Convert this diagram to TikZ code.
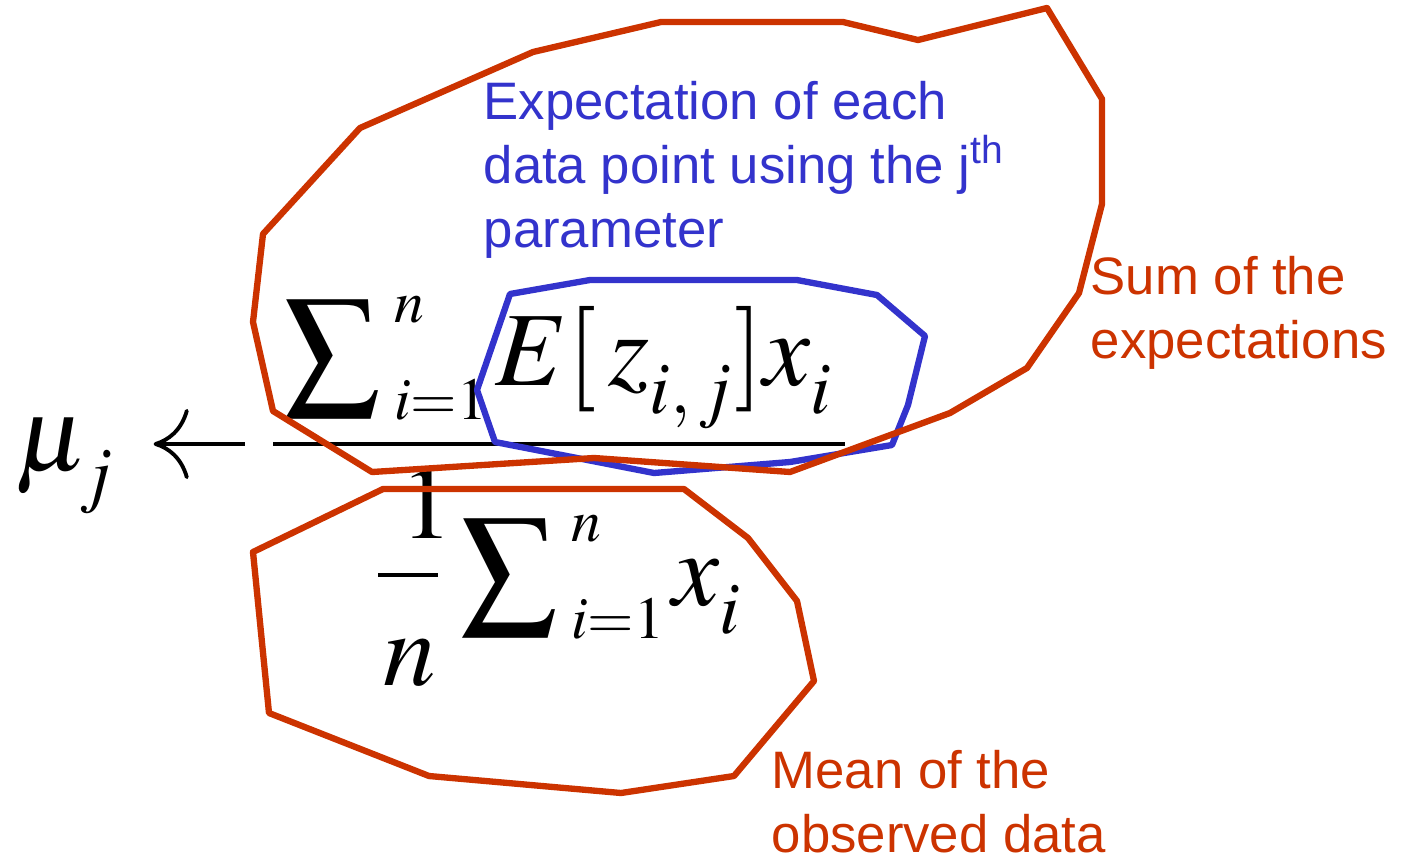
\documentclass[tikz,border=0pt]{standalone}
\usepackage{mathptmx}
\usepackage[no-math]{fontspec}
\setsansfont{Liberation Sans}
\usetikzlibrary{
  arrows.meta,
  positioning
}
\DeclareMathSizes{30}{30}{21}{15}
\DeclareMathSizes{27}{27}{17}{13}
\definecolor{sumred}{RGB}{204,51,0}
\definecolor{expblue}{RGB}{51,51,204}
\newcommand{\dsub}[1]{_{\lower3.5pt\hbox{$\scriptstyle#1$}}}
\tikzset{
  bigmath/.style={inner sep=0pt,font=\fontsize{30}{30}\selectfont},
  summath/.style={inner sep=0pt,font=\fontsize{27}{27}\selectfont},
  remark/.style={inner sep=0pt,align=left,font=\sffamily\fontsize{15}{18.2}\selectfont},
  hull/.style={line width=1.8pt,line join=round}
}

\begin{document}
\begin{tikzpicture}[x=0.1mm,y=-0.1mm,>={Computer Modern Rightarrow[length=10pt,width=20pt]}]
  \useasboundingbox (0,0) rectangle (1404,859);
  % the update rule
  \node[bigmath,anchor=base west] (mu) at (15,470) {$\mu\dsub{j}$};
  \node[summath,anchor=base west] (topsum) at (283,382) {$\displaystyle\sum\nolimits_{\;i=1}^{\;n}$};
  \node[bigmath,anchor=base west] (expect) at (495,385) {$E[\,z\dsub{i,\,j}]x\dsub{i}$};
  \node[bigmath,anchor=base west] (one) at (400,538) {$1$};
  \node[bigmath,anchor=base west] (enn) at (383,685) {$n$};
  \node[summath,anchor=base west] (botsum) at (460,601) {$\displaystyle\sum\nolimits_{\;i=1}^{\;n}$};
  \node[bigmath,anchor=base west] (xi) at (672,605) {$x\dsub{i}$};
  \coordinate (barL) at (273,444);
  \coordinate (barR) at (845,444);
  \coordinate (smallL) at (378,575);
  \coordinate (smallR) at (438,575);
  \draw[line width=1.15pt] (barL) -- (barR);
  \draw[line width=1.1pt] (smallL) -- (smallR);
  \draw[->,line width=1.1pt,shorten <=8pt,shorten >=11pt] (barL) -- (mu.east |- barL);
  % labels
  \node[remark,text=expblue,anchor=base west] (expnote) at (483,247)
    {Expectation of each\\data point using the j\textsuperscript{th}\\parameter};
  \node[remark,text=sumred,anchor=base west] (sumnote) at (1090,358)
    {Sum of the\\expectations};
  \node[remark,text=sumred,anchor=base west] (meannote) at (771,852)
    {Mean of the\\observed data};
  % the circled parts
  \draw[hull,expblue] (510,294) -- (590,280) -- (797,280) -- (877,295) -- (925,336)
    -- (908,405) -- (892,445) -- (790,462) -- (654,473) -- (495,442) -- (477,390) -- cycle;
  \draw[hull,sumred] (263,234) -- (360,128) -- (533,52) -- (661,22) -- (843,22) -- (918,40)
    -- (1047,8) -- (1102,99) -- (1102,204) -- (1079,293) -- (1027,368) -- (950,413)
    -- (790,472) -- (594,458) -- (372,472) -- (273,411) -- (253,322) -- cycle;
  \draw[hull,sumred] (383,489) -- (684,489) -- (748,538) -- (797,601) -- (814,681)
    -- (734,776) -- (621,793) -- (429,776) -- (269,713) -- (253,552) -- cycle;
\end{tikzpicture}
\end{document}
